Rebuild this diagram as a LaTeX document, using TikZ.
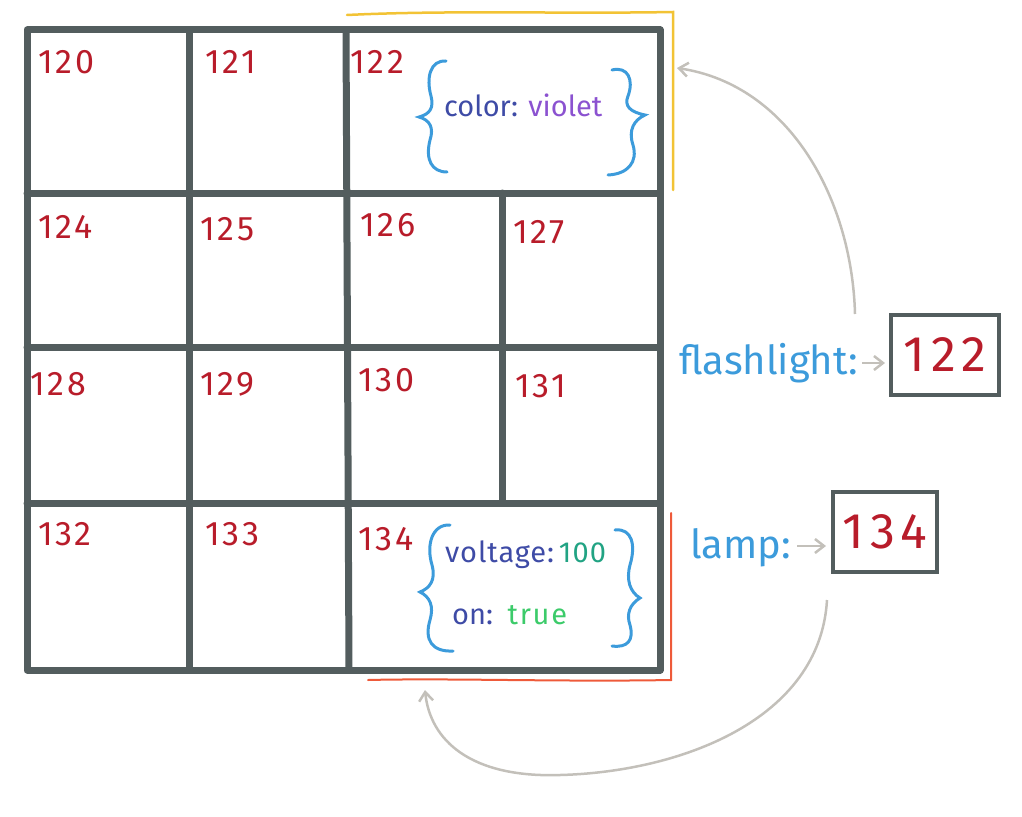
\documentclass[tikz,border=0pt]{standalone}
\usepackage{fontspec}
\setmainfont{Fira Sans}
\usetikzlibrary{arrows.meta}
\definecolor{gridc}{HTML}{535D5E}
\definecolor{numred}{HTML}{B81C2A}
\definecolor{lblue}{HTML}{3C9BDB}
\definecolor{dblue}{HTML}{3E4BA6}
\definecolor{violetc}{HTML}{8B52D0}
\definecolor{tealc}{HTML}{21A383}
\definecolor{greenc}{HTML}{3CCB6A}
\definecolor{grayc}{HTML}{C3C0BA}
\definecolor{yellowc}{HTML}{F2C335}
\definecolor{orangec}{HTML}{EE5A3A}
\tikzset{
  gridline/.style={draw=gridc, line width=7pt, line cap=round, line join=round},
  cellnum/.style={anchor=north west, inner sep=0pt, text=numred, font=\fontsize{34}{34}\selectfont\addfontfeatures{LetterSpace=8}},
  bracec/.style={draw=lblue, line width=3pt, line cap=round},
  valtext/.style={inner sep=0pt, anchor=base west, font=\fontsize{29}{29}\selectfont},
  varlabel/.style={inner sep=0pt, anchor=base west, text=lblue, font=\fontsize{40}{40}\selectfont},
  ptrarrow/.style={draw=grayc, line width=2.5pt, -{Straight Barb[length=9pt,width=14pt]}},
  refbox/.style={draw=gridc, line width=4pt, text=numred, minimum width=108pt, minimum height=80pt, inner sep=0pt, font=\fontsize{50}{50}\selectfont\addfontfeatures{LetterSpace=12}},
  hiliteY/.style={draw=yellowc, line width=2.5pt, line cap=round},
  hiliteO/.style={draw=orangec, line width=2pt, line cap=round},
}
\begin{document}
\begin{tikzpicture}[x=1pt,y=-1pt]
\useasboundingbox (0,0) rectangle (1022,816);
% grid
\draw[gridline] (27,30) rectangle (660,670);
\draw[gridline] (27,193) -- (660,193);
\draw[gridline] (27,347) -- (660,347);
\draw[gridline] (27,503) -- (660,503);
\draw[gridline] (189,30) -- (189,670);
\draw[gridline] (346,30) -- (349,670);
\draw[gridline] (502,193) -- (502,503);
% cell numbers
\node[cellnum] (c120) at (38,50) {120};
\node[cellnum] (c121) at (205,50) {121};
\node[cellnum] (c122) at (350,50) {122};
\node[cellnum] (c124) at (38,215) {124};
\node[cellnum] (c125) at (200,217) {125};
\node[cellnum] (c126) at (360,213) {126};
\node[cellnum] (c127) at (513,220) {127};
\node[cellnum] (c128) at (30,372) {128};
\node[cellnum] (c129) at (200,372) {129};
\node[cellnum] (c130) at (358,368) {130};
\node[cellnum] (c131) at (515,374) {131};
\node[cellnum] (c132) at (38,522) {132};
\node[cellnum] (c133) at (205,522) {133};
\node[cellnum] (c134) at (358,527) {134};
% cell 122 contents
\draw[bracec] (446,61) .. controls (430,60) and (426,78) .. (431,96)
  .. controls (434,108) and (430,114) .. (419,117)
  .. controls (430,120) and (434,128) .. (430,140)
  .. controls (425,160) and (432,172) .. (447,172);
\draw[bracec] (612,70) .. controls (628,66) and (634,80) .. (628,96)
  .. controls (624,106) and (630,112) .. (645,115)
  .. controls (634,120) and (628,130) .. (633,145)
  .. controls (638,162) and (628,174) .. (608,175);
\node[valtext] (v122) at (444,116) {\textcolor{dblue}{color:} \textcolor{violetc}{violet}};
% cell 134 contents
\draw[bracec] (450,525) .. controls (432,524) and (426,545) .. (432,565)
  .. controls (436,580) and (430,588) .. (420,592)
  .. controls (430,597) and (434,606) .. (430,620)
  .. controls (424,640) and (432,652) .. (453,651);
\draw[bracec] (615,530) .. controls (632,528) and (636,545) .. (630,565)
  .. controls (626,580) and (630,592) .. (640,598)
  .. controls (630,604) and (626,614) .. (630,625)
  .. controls (634,640) and (628,648) .. (612,646);
\node[valtext] (v134a) at (445,562) {\textcolor{dblue}{\addfontfeatures{LetterSpace=3}voltage:}\,\textcolor{tealc}{\addfontfeatures{LetterSpace=4}100}};
\node[valtext] (v134b) at (452,624) {\textcolor{dblue}{on:}\enspace\textcolor{greenc}{\addfontfeatures{LetterSpace=6}true}};
% highlights
\draw[hiliteY] (347,15) .. controls (450,10) and (560,14) .. (673,12) -- (673,190);
\draw[hiliteO] (671,513) -- (671,680) .. controls (560,682) and (450,678) .. (368,680);
\coordinate (yEnd) at (677,68);
\coordinate (oEnd) at (425,690);
% variables
\node[varlabel] (flash) at (679,374) {flashlight:};
\node[refbox] (b122) at (945,355) {122};
\coordinate (fa) at (862,363);
\coordinate (fb) at (885,363);
\draw[ptrarrow] (fa) -- (fb);
\node[varlabel] (lamp) at (690,558) {lamp:};
\node[refbox, minimum width=104pt, minimum height=80pt] (b134) at (885,532) {134};
\coordinate (la) at (797,546);
\coordinate (lb) at (826,546);
\draw[ptrarrow] (la) -- (lb);
% curved pointers
\coordinate (fs) at (855,314);
\coordinate (ls) at (827,600);
\draw[ptrarrow] (fs) .. controls (852,200) and (790,85) .. (yEnd);
\draw[ptrarrow] (ls) .. controls (820,720) and (680,772) .. (560,775)
  .. controls (470,778) and (430,740) .. (oEnd);
\end{tikzpicture}
\end{document}
